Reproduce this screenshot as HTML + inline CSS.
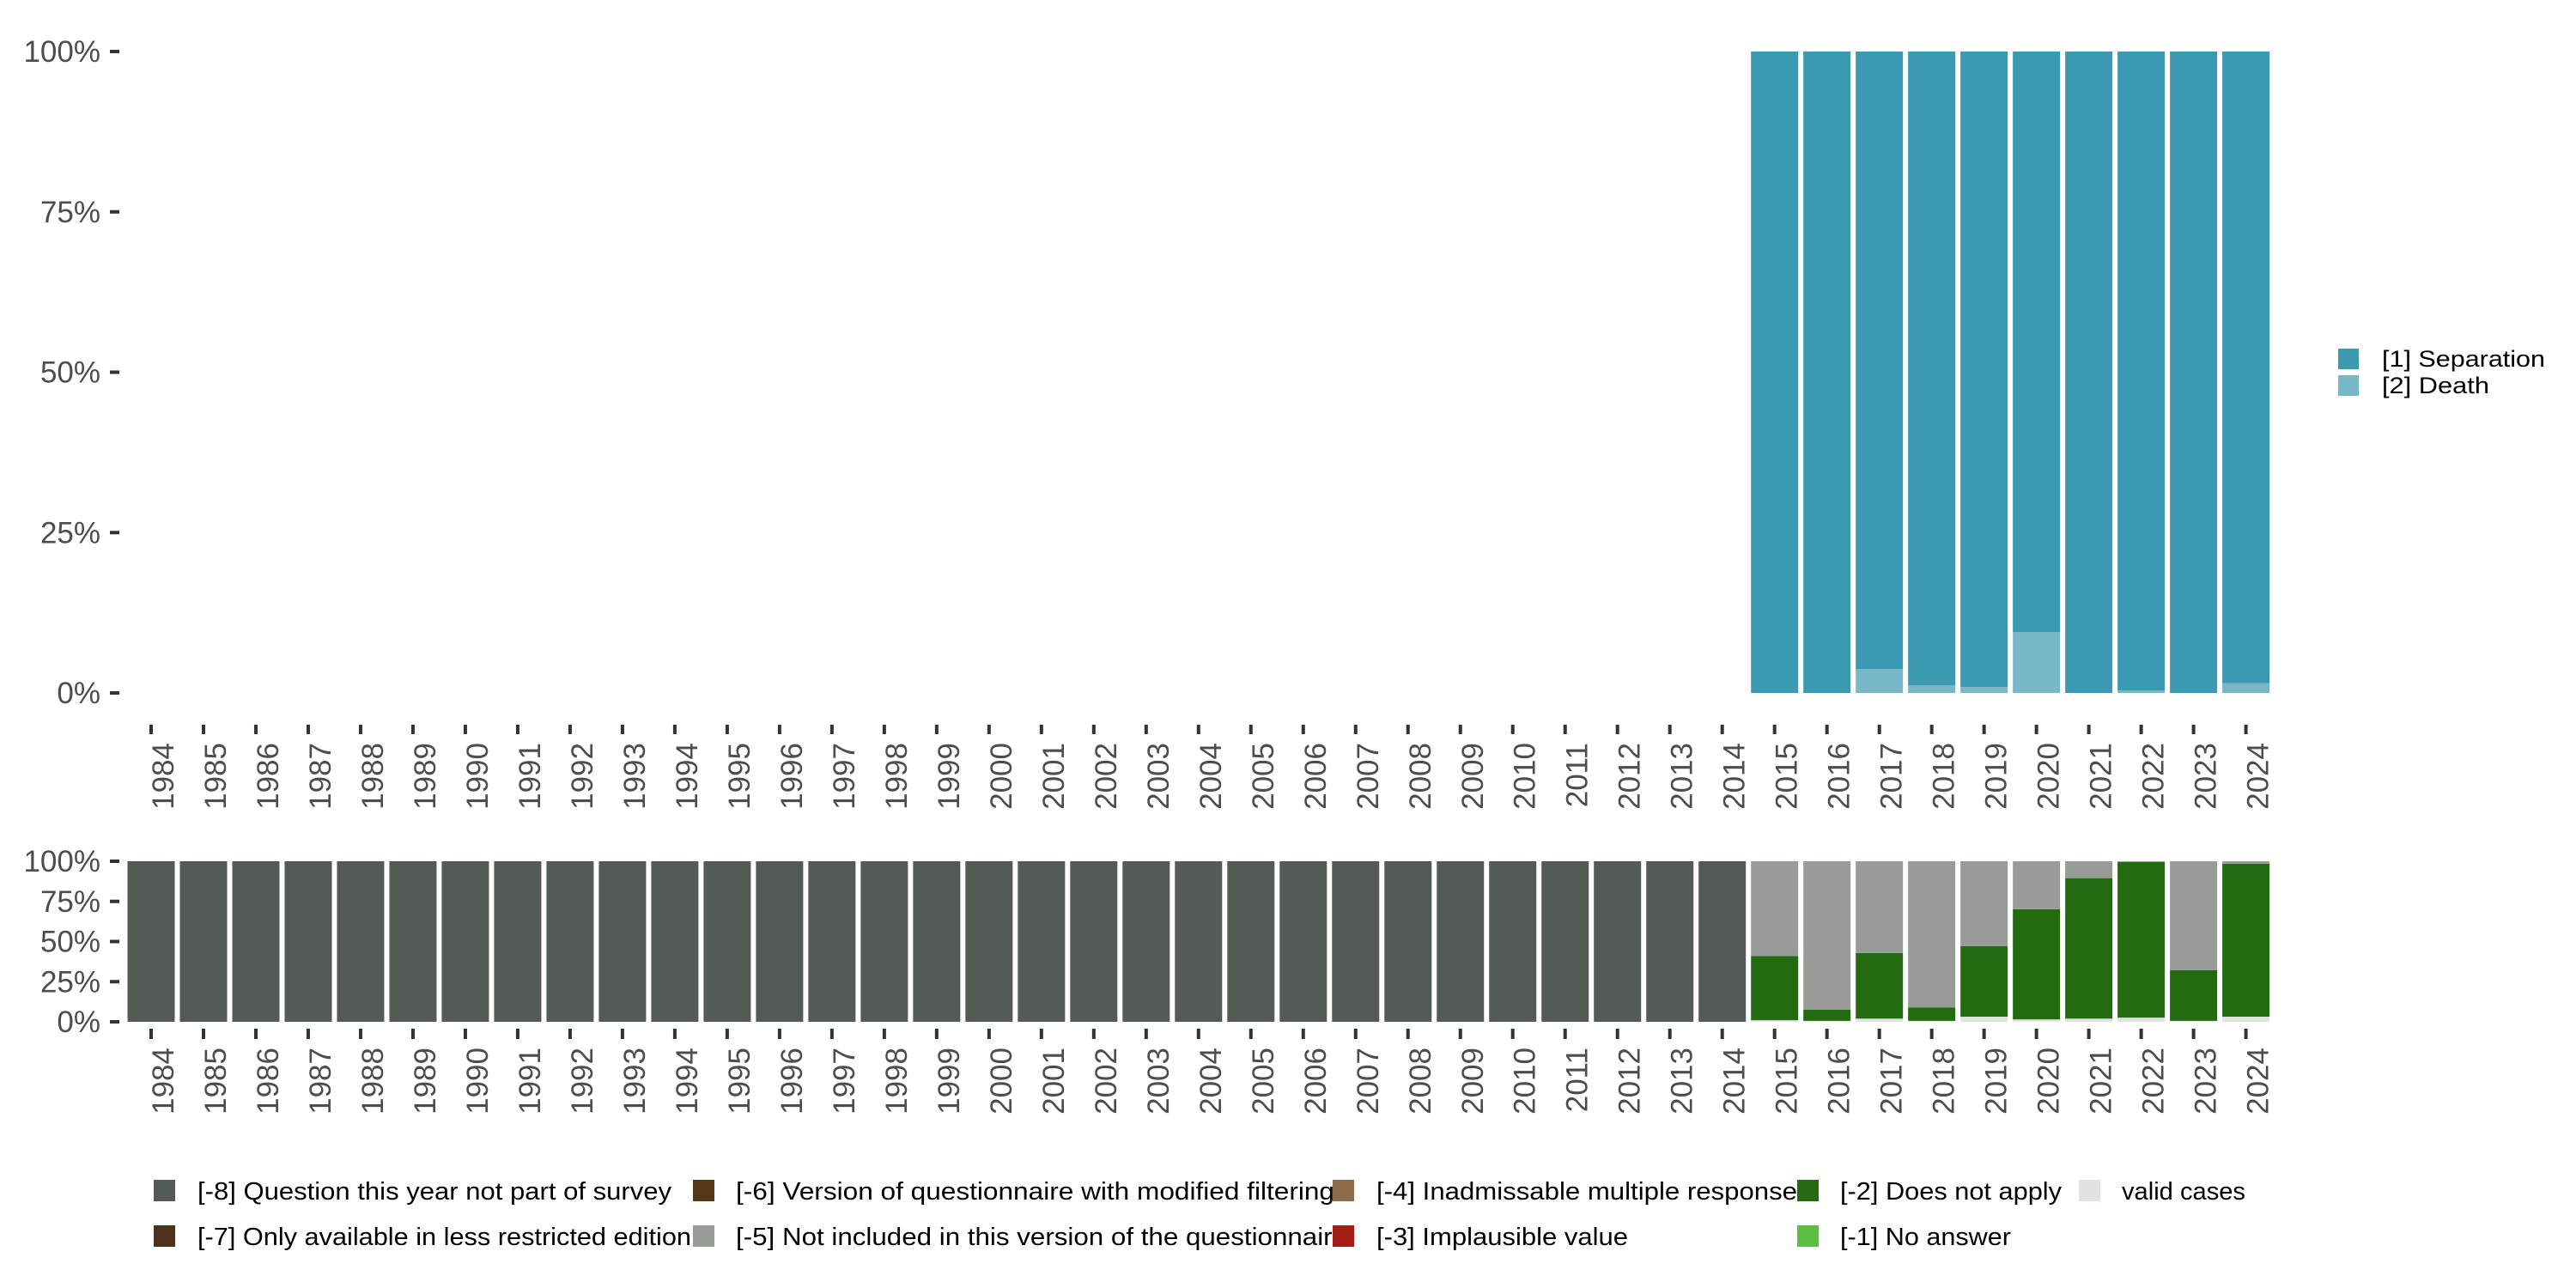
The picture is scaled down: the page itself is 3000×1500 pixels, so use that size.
<!DOCTYPE html>
<html>
<head>
<meta charset="utf-8">
<style>
html,body{margin:0;padding:0;background:#fff;}
svg{display:block;}
text{font-family:"Liberation Sans",sans-serif;}
</style>
</head>
<body>
<svg id="chart" width="3000" height="1500" viewBox="0 0 3000 1500" xmlns="http://www.w3.org/2000/svg">
<g id="top"></g>
<g id="bottom"></g>
<g id="legTop"></g>
<g id="legBottom"></g>
</svg>
<script>
const years = [1984,1985,1986,1987,1988,1989,1990,1991,1992,1993,1994,1995,1996,1997,1998,1999,2000,2001,2002,2003,2004,2005,2006,2007,2008,2009,2010,2011,2012,2013,2014,2015,2016,2017,2018,2019,2020,2021,2022,2023,2024];
// top panel: share of Death among valid cases (only 2015-2024 present)
const topYears = [2015,2016,2017,2018,2019,2020,2021,2022,2023,2024];
const deathPct = [0,0,3.7,1.2,0.9,9.5,0,0.4,0,1.5];
// bottom panel (percent), stacked bottom -> top
const validPct = [1,0.6,2,0.6,3.2,1.5,2,2.6,0.6,3.2];
const notApplyPct = [40,6.9,40.9,8.4,44,68.6,87.5,97,31.5,95.3];
// 1984-2014 entirely [-8]; remainder of 2015-2024 is [-5]
const yTicks = [0,25,50,75,100];
const yTickLabels = ["0%","25%","50%","75%","100%"];

const NS = "http://www.w3.org/2000/svg";
function mk(parent, tag, attrs, txt){
  const e = document.createElementNS(NS, tag);
  for (const k in attrs) e.setAttribute(k, attrs[k]);
  if (txt !== undefined) e.textContent = txt;
  parent.appendChild(e);
  return e;
}
const x0 = 176, pitch = 60.99, barW = 55;
function xScale(year){ return x0 + years.indexOf(year) * pitch; }

function drawAxes(g, yTop, yBot, tickY1, tickY2, labTop){
  const ys = v => yBot - (yBot - yTop) * v / 100;
  yTicks.forEach((t,i)=>{
    const tk = mk(g,'rect',{x:128,y:ys(t)-2,width:11,height:4,fill:'#333'});
    
    
    const lb = mk(g,'text',{x:117,y:ys(t)+12,'text-anchor':'end','font-size':35,fill:'#4d4d4d'},yTickLabels[i]);
    
    
  });
  years.forEach(yr=>{
    const cx = xScale(yr);
    const tk = mk(g,'rect',{x:cx-2,y:tickY1,width:4,height:tickY2-tickY1,fill:'#333'});
    
    
    const lb = mk(g,'text',{x:0,y:0,'text-anchor':'end','font-size':35,fill:'#4d4d4d',
      transform:`translate(${cx+26},${labTop}) rotate(-90)`}, String(yr));
    
    
  });
  return ys;
}

// top panel
const gt = document.getElementById('top');
const ysT = drawAxes(gt, 60, 807, 844, 855, 865);
topYears.forEach((yr,i)=>{
  const cx = xScale(yr);
  const sep = mk(gt,'rect',{x:cx-barW/2,y:ysT(100),width:barW,height:ysT(deathPct[i])-ysT(100),fill:'#3b99b1'});
  
  
  if (deathPct[i]>0){
    const d = mk(gt,'rect',{x:cx-barW/2,y:ysT(deathPct[i]),width:barW,height:ysT(0)-ysT(deathPct[i]),fill:'#78b7c5'});
    
    
  }
});

// bottom panel
const gb = document.getElementById('bottom');
const ysB = drawAxes(gb, 1003, 1190, 1198, 1210, 1220);
years.forEach(yr=>{
  const cx = xScale(yr);
  const i = topYears.indexOf(yr);
  if (i < 0){
    const r = mk(gb,'rect',{x:cx-barW/2,y:ysB(100),width:barW,height:ysB(0)-ysB(100),fill:'#545b55'});
    
    
    return;
  }
  const v = validPct[i], n = notApplyPct[i];
  const r1 = mk(gb,'rect',{x:cx-barW/2,y:ysB(v),width:barW,height:ysB(0)-ysB(v),fill:'#e1e3e0'});
  
  
  const r2 = mk(gb,'rect',{x:cx-barW/2,y:ysB(v+n),width:barW,height:ysB(v)-ysB(v+n),fill:'#236b11'});
  
  
  const r3 = mk(gb,'rect',{x:cx-barW/2,y:ysB(100),width:barW,height:ysB(v+n)-ysB(100),fill:'#989c96'});
  
  
});

// top legend
const lt = document.getElementById('legTop');
[['[1] Separation','#3b99b1',406,190],['[2] Death','#78b7c5',437,125]].forEach(e=>{
  const s = mk(lt,'rect',{x:2723,y:e[2],width:24,height:24,fill:e[1]});
  
  
  const t = mk(lt,'text',{x:2774,y:e[2]+21,'font-size':27,fill:'#000',textLength:e[3],lengthAdjust:'spacingAndGlyphs'},e[0]);
  
  
});

// bottom legend
const lb = document.getElementById('legBottom');
const legItems = [
  ['[-8] Question this year not part of survey','#545b55',179,230,1374,552],
  ['[-7] Only available in less restricted edition','#4d311a',179,230,1427,575],
  ['[-6] Version of questionnaire with modified filtering','#573618',807,857,1374,697],
  ['[-5] Not included in this version of the questionnaire','#989c96',807,857,1427,712],
  ['[-4] Inadmissable multiple response','#8c6c4a',1552,1603,1374,490],
  ['[-3] Implausible value','#a51c16',1552,1603,1427,293],
  ['[-2] Does not apply','#236b11',2093,2143,1374,258],
  ['[-1] No answer','#5bbf3f',2093,2143,1427,199],
  ['valid cases','#e1e3e0',2421,2471,1374,144]
];
legItems.forEach(e=>{
  const s = mk(lb,'rect',{x:e[2],y:e[4],width:25,height:25,fill:e[1]});
  
  
  const t = mk(lb,'text',{x:e[3],y:e[4]+23,'font-size':29,fill:'#000',textLength:e[5],lengthAdjust:'spacingAndGlyphs'},e[0]);
  
  
});
</script>
</body>
</html>
